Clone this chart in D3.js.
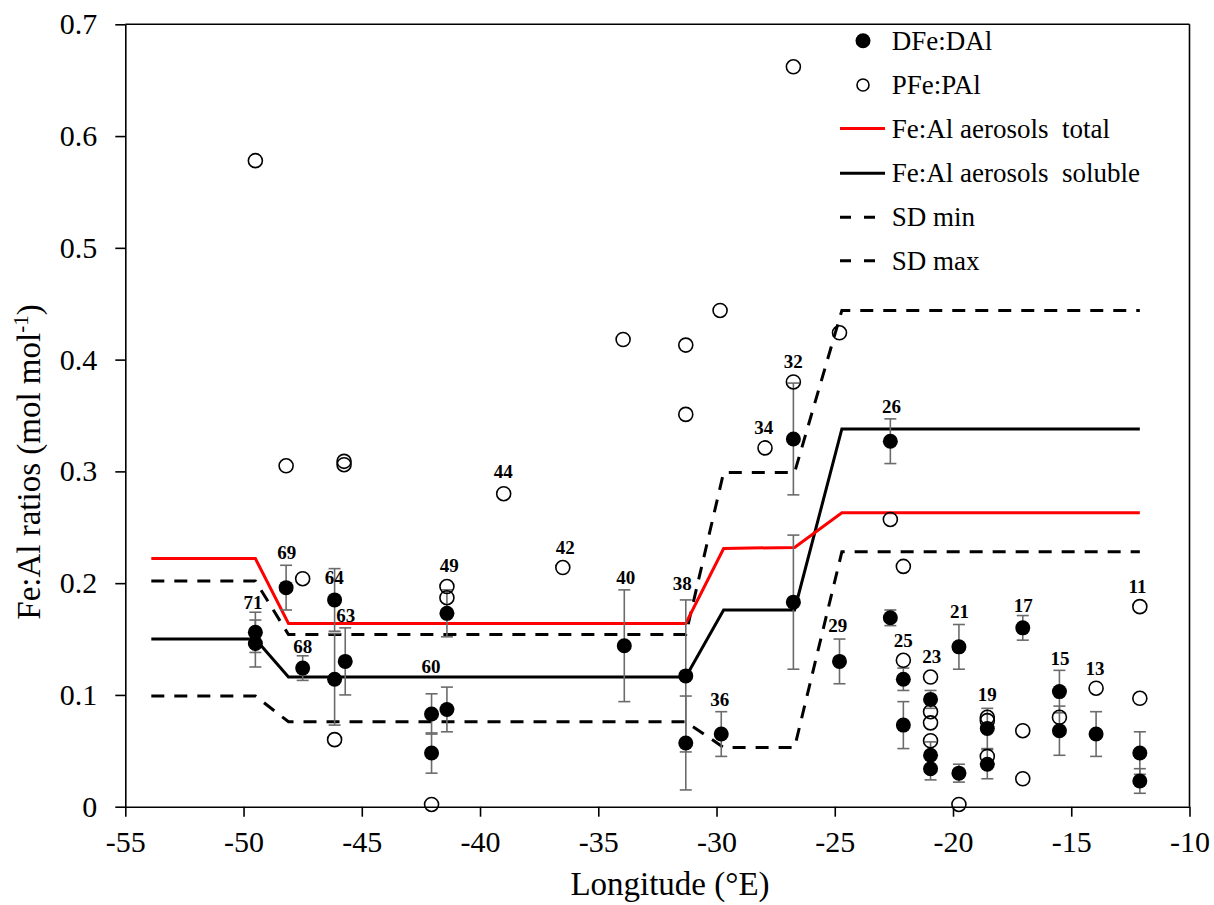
<!DOCTYPE html>
<html>
<head>
<meta charset="utf-8">
<script src="https://cdn.jsdelivr.net/npm/d3@7"></script>
<style>
  body { margin: 0; background: #fff; }
  svg { display: block; font-family: "Liberation Serif", "Times New Roman", serif; }
</style>
</head>
<body>
<div id="chart"></div>
<script>
// ========================
// Data
// ========================
// longitude knots of the aerosol ratio lines
const lineLon     = [-53.9, -49.5, -48.1, -31.3, -29.7, -26.7, -24.7, -12.1];
const feAlTotal   = [0.222, 0.222, 0.164, 0.164, 0.231, 0.232, 0.263, 0.263];
const feAlSoluble = [0.150, 0.150, 0.116, 0.116, 0.176, 0.176, 0.338, 0.338];
const sdMin       = [0.099, 0.099, 0.076, 0.076, 0.053, 0.053, 0.228, 0.228];
const sdMax       = [0.202, 0.202, 0.154, 0.154, 0.299, 0.299, 0.444, 0.444];

// DFe:DAl (filled) with error
const dLon   = [-49.5, -49.5, -48.2, -47.5, -46.15, -46.15, -45.7, -42.05, -42.05, -41.4, -41.4,
                -33.9, -31.3, -31.3, -29.8, -26.75, -26.75, -24.8, -22.65, -22.65, -22.1, -22.1,
                -20.95, -20.95, -20.95, -19.75, -19.75, -18.55, -18.55, -17.05, -15.5, -15.5, -13.95, -12.1, -12.1];
const dRatio = [0.156, 0.146, 0.196, 0.124, 0.185, 0.114, 0.130, 0.083, 0.048, 0.173, 0.087,
                0.144, 0.117, 0.057, 0.065, 0.329, 0.183, 0.130, 0.327, 0.169, 0.114, 0.073,
                0.096, 0.046, 0.034, 0.143, 0.030, 0.070, 0.038, 0.160, 0.103, 0.068, 0.065, 0.048, 0.023];
const dErr   = [0.018, 0.021, 0.020, 0.011, 0.028, 0.041, 0.030, 0.018, 0.018, 0.021, 0.020,
                0.050, 0.068, 0.042, 0.020, 0.050, 0.060, 0.020, 0.020, 0.007, 0.010, 0.021,
                0.008, 0.012, 0.010, 0.020, 0.008, 0.018, 0.013, 0.011, 0.019, 0.022, 0.020, 0.019, 0.011];

// PFe:PAl (open)
const pLon   = [-49.5, -48.2, -47.5, -46.15, -45.75, -45.75, -42.05, -41.4, -41.4, -39.0, -36.5,
                -33.95, -31.3, -31.3, -29.85, -27.95, -26.75, -26.75, -24.8, -22.65, -22.1, -22.1,
                -20.95, -20.95, -20.95, -20.95, -19.75, -18.55, -18.55, -18.55, -17.05, -17.05, -15.5, -13.95, -12.1, -12.1];
const pRatio = [0.578, 0.305, 0.204, 0.060, 0.309, 0.306, 0.002, 0.197, 0.187, 0.280, 0.214,
                0.418, 0.413, 0.351, 0.444, 0.321, 0.380, 0.662, 0.424, 0.257, 0.215, 0.131,
                0.116, 0.085, 0.075, 0.059, 0.002, 0.080, 0.077, 0.045, 0.068, 0.025, 0.080, 0.106, 0.179, 0.097];

// station numbers, placed in data coordinates
const stations   = ["71", "69", "68", "64", "63", "60", "49", "44", "42", "40", "38", "36", "34", "32",
                    "29", "26", "25", "23", "21", "19", "17", "15", "13", "11"];
const stationLon = [-49.6, -48.17, -47.5, -46.16, -45.68, -42.07, -41.3, -39.02, -36.4, -33.84, -31.45, -29.86, -28.0, -26.76,
                    -24.87, -22.6, -22.1, -20.9, -19.73, -18.55, -17.03, -15.48, -14.0, -12.2];
const stationY   = [0.183, 0.227, 0.143, 0.205, 0.171, 0.125, 0.216, 0.300, 0.232, 0.205, 0.200, 0.096, 0.339, 0.398,
                    0.162, 0.358, 0.149, 0.134, 0.175, 0.100, 0.180, 0.133, 0.124, 0.197];

const xTicks = [-55, -50, -45, -40, -35, -30, -25, -20, -15, -10];
const yTicks = [0, 0.1, 0.2, 0.3, 0.4, 0.5, 0.6, 0.7];

// ========================
// Setup
// ========================
const width = 1214, height = 905;
const plotL = 125.3, plotR = 1189.5, plotT = 24.3, plotB = 806.7;

const svg = d3.select("#chart").append("svg")
    .attr("width", width)
    .attr("height", height);

const x = d3.scaleLinear().domain([-55, -10]).range([plotL, plotR]);
const y = d3.scaleLinear().domain([0, 0.7]).range([plotB, plotT]);

// axes (plain hyphen for negatives, like the original)
const xAxis = svg.append("g")
    .attr("transform", `translate(0,${plotB})`)
    .call(d3.axisBottom(x).tickValues(xTicks).tickSize(10).tickSizeOuter(0).tickPadding(14)
        .tickFormat(d => String(d)));
const yAxis = svg.append("g")
    .attr("transform", `translate(${plotL},0)`)
    .call(d3.axisLeft(y).tickValues(yTicks).tickSize(10).tickSizeOuter(0).tickPadding(18)
        .tickFormat(d => d === 0 ? "0" : d3.format(".1f")(d)));

[xAxis, yAxis].forEach(g => {
    g.selectAll("path").attr("stroke", "#000").attr("stroke-width", 1.6);
    g.selectAll("line").attr("stroke", "#000").attr("stroke-width", 1.6);
    g.selectAll("text").attr("fill", "#000").style("font-size", "30px")
        .style("font-family", "'Liberation Serif', 'Times New Roman', serif");
});

// frame top and right
svg.append("line").attr("x1", plotL).attr("x2", plotR).attr("y1", plotT).attr("y2", plotT)
    .attr("stroke", "#000").attr("stroke-width", 1.6);
svg.append("line").attr("x1", plotR).attr("x2", plotR).attr("y1", plotT).attr("y2", plotB)
    .attr("stroke", "#000").attr("stroke-width", 1.6);

// axis titles
svg.append("text")
    .attr("x", 670).attr("y", 895)
    .attr("text-anchor", "middle")
    .style("font-size", "33px")
    .text("Longitude (°E)");

const yTitle = svg.append("text")
    .attr("transform", "translate(40,462) rotate(-90)")
    .attr("text-anchor", "middle")
    .style("font-size", "33px");
yTitle.append("tspan").text("Fe:Al ratios (mol mol");
yTitle.append("tspan").attr("dy", -12).style("font-size", "21px").text("-1");
yTitle.append("tspan").attr("dy", 12).text(")");

// ========================
// Lines
// ========================
const line = d3.line().x(d => x(d[0])).y(d => y(d[1]));
const series = [
    { vals: sdMin, color: "#000", dash: "13,10" },
    { vals: sdMax, color: "#000", dash: "13,10" },
    { vals: feAlSoluble, color: "#000", dash: null },
    { vals: feAlTotal, color: "#ff0000", dash: null }
];
series.forEach(s => {
    svg.append("path")
        .datum(lineLon.map((l, i) => [l, s.vals[i]]))
        .attr("d", line)
        .attr("fill", "none")
        .attr("stroke", s.color)
        .attr("stroke-width", 3)
        .attr("stroke-dasharray", s.dash);
});

// ========================
// Points
// ========================
const dPoints = dLon.map((l, i) => ({ lon: l, v: dRatio[i], e: dErr[i] }));
const pPoints = pLon.map((l, i) => ({ lon: l, v: pRatio[i] }));
const cap = 6, errColor = "#6b6b6b";

const err = svg.append("g").attr("stroke", errColor).attr("stroke-width", 1.6);
dPoints.forEach(d => {
    const x0 = x(d.lon), y1 = y(d.v + d.e), y2 = y(d.v - d.e);
    err.append("line").attr("x1", x0).attr("x2", x0).attr("y1", y1).attr("y2", y2);
    err.append("line").attr("x1", x0 - cap).attr("x2", x0 + cap).attr("y1", y1).attr("y2", y1);
    err.append("line").attr("x1", x0 - cap).attr("x2", x0 + cap).attr("y1", y2).attr("y2", y2);
});

svg.selectAll(".dpt")
    .data(dPoints)
    .enter()
    .append("circle")
    .attr("cx", d => x(d.lon))
    .attr("cy", d => y(d.v))
    .attr("r", 7.5)
    .attr("fill", "#000");

svg.selectAll(".ppt")
    .data(pPoints)
    .enter()
    .append("circle")
    .attr("cx", d => x(d.lon))
    .attr("cy", d => y(d.v))
    .attr("r", 7)
    .attr("fill", "none")
    .attr("stroke", "#000")
    .attr("stroke-width", 1.6);

// station labels
svg.selectAll(".st")
    .data(stations)
    .enter()
    .append("text")
    .attr("x", (d, i) => x(stationLon[i]))
    .attr("y", (d, i) => y(stationY[i]))
    .attr("text-anchor", "middle")
    .attr("dominant-baseline", "central")
    .style("font-size", "19px")
    .style("font-weight", "bold")
    .text(d => d);

// ========================
// Legend
// ========================
const legend = svg.append("g").style("font-size", "27px");
const rowY = [40.7, 85, 128.5, 173.3, 217.3, 260.7];
const textX = 891.7;
legend.append("circle").attr("cx", 863).attr("cy", rowY[0]).attr("r", 7.5).attr("fill", "#000");
legend.append("circle").attr("cx", 863).attr("cy", rowY[1]).attr("r", 6)
    .attr("fill", "none").attr("stroke", "#000").attr("stroke-width", 1.6);
legend.append("line").attr("x1", 840).attr("x2", 885).attr("y1", rowY[2]).attr("y2", rowY[2])
    .attr("stroke", "#ff0000").attr("stroke-width", 3);
legend.append("line").attr("x1", 840).attr("x2", 885).attr("y1", rowY[3]).attr("y2", rowY[3])
    .attr("stroke", "#000").attr("stroke-width", 3);
[rowY[4], rowY[5]].forEach(ry => {
    legend.append("line").attr("x1", 840).attr("x2", 880).attr("y1", ry).attr("y2", ry)
        .attr("stroke", "#000").attr("stroke-width", 3).attr("stroke-dasharray", "11,13");
});
const labels = ["DFe:DAl", "PFe:PAl", "Fe:Al aerosols\u00a0\u00a0total", "Fe:Al aerosols\u00a0\u00a0soluble", "SD min", "SD max"];
labels.forEach((t, i) => {
    legend.append("text")
        .attr("x", textX)
        .attr("y", rowY[i])
        .attr("dominant-baseline", "central")
        .text(t);
});
</script>
</body>
</html>
